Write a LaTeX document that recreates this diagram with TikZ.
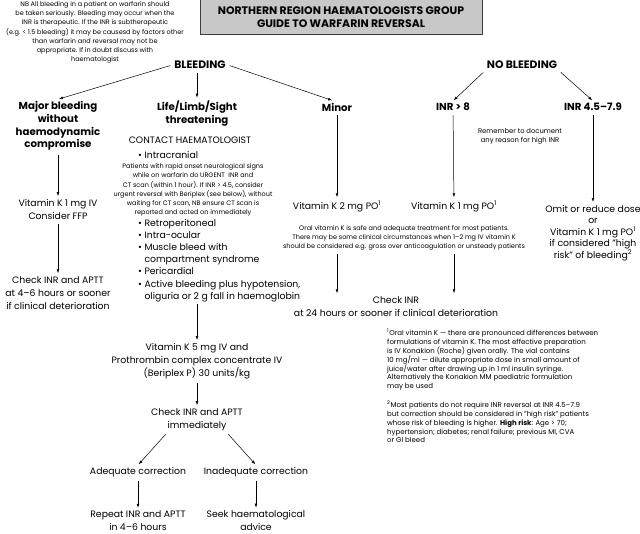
\documentclass[tikz,border=0pt]{standalone}
\usepackage{fontspec}
\setmainfont{Poppins}
\usepackage{tikz}
\usetikzlibrary{arrows.meta,positioning}
\definecolor{titlefill}{RGB}{200,200,200}
\definecolor{titleline}{RGB}{60,60,60}

\begin{document}
\begin{tikzpicture}[
		x=1pt,y=-1pt,
		>={Latex[length=4pt,width=2.8pt]},
		txt/.style={
			align=center,
			inner sep=2pt,
			font=\fontsize{9.3}{13}\selectfont,
		},
		head/.style={
			txt,
			font=\bfseries\fontsize{10.2}{12.7}\selectfont,
		},
		bighead/.style={
			txt,
			font=\bfseries\fontsize{10.8}{13}\selectfont,
		},
		list/.style={
			txt,
			align=left,
			anchor=west,
			inner sep=0pt,
			font=\fontsize{9.3}{12.2}\selectfont,
		},
		small/.style={
			align=center,
			inner sep=1pt,
			font=\fontsize{6.5}{9.2}\selectfont,
		},
		foot/.style={
			align=left,
			anchor=west,
			inner sep=0pt,
			font=\fontsize{7}{8.9}\selectfont,
		},
		titlebox/.style={
			draw=titleline,
			line width=1pt,
			fill=titlefill,
			align=center,
			minimum width=282pt,
			minimum height=35pt,
			font=\bfseries\fontsize{10.9}{13}\selectfont,
		},
		arr/.style={
			->,
			line width=0.5pt,
			shorten <=2pt,
			shorten >=1pt,
		}
	]
	\useasboundingbox (0,0) rectangle (640,534);

	% heading
	\node[small] (note) at (95,32.5) {NB All bleeding in a patient on warfarin should\\be taken seriously. Bleeding may occur when the\\INR is therapeutic. If the INR is subtherapeutic\\(e.g. < 1.5 bleeding) it may be causesd by factors other\\than warfarin and reversal may not be\\appropriate. If in doubt discuss with\\haematologist};
	\node[titlebox] (title) at (341,17.5) {NORTHERN REGION HAEMATOLOGISTS GROUP\\GUIDE TO WARFARIN REVERSAL};

	\node[bighead] (bl) at (200,65) {BLEEDING};
	\node[bighead] (nb) at (522,65) {NO BLEEDING};

	\node[head] (bl1) at (58,126) {Major bleeding\\without\\haemodynamic\\compromise};
	\node[head] (bl2) at (197,113.5) {Life/Limb/Sight\\threatening};
	\node[head] (bl3) at (337,107) {Minor};
	\node[head] (nb1) at (453,107) {INR > 8};
	\node[head] (nb2) at (593,107) {INR 4.5–7.9};
	\node[small,font=\fontsize{6.8}{8.5}\selectfont] (nb1n) at (520,136.5) {Remember to document\\any reason for high INR};

	% major bleeding
	\node[txt] (bl1a) at (58,209.5) {Vitamin K 1 mg IV\\Consider FFP};
	\node[txt] (bl1b) at (58,293) {Check INR and APTT\\at 4–6 hours or sooner\\if clinical deterioration};

	% life/limb/sight
	\node[txt] (bl2a) at (190,140) {CONTACT HAEMATOLOGIST};
	\node[list] (bl2b) at (138,155) {\textbullet\ Intracranial};
	\node[small] (bl2c) at (193,190) {Patients with rapid onset neurological signs\\while on warfarin do URGENT\ \ INR and\\CT scan (within 1 hour). If INR > 4.5, consider\\urgent reversal with Beriplex (see below), without\\waiting for CT scan, NB ensure CT scan is\\reported and acted on immediately};
	\node[list] (bl2d) at (138,260.5) {\textbullet\ Retroperitoneal\\\textbullet\ Intra-ocular\\\textbullet\ Muscle bleed with\\\hphantom{\textbullet\ }compartment syndrome\\\textbullet\ Pericardial\\\textbullet\ Active bleeding plus hypotension,\\\hphantom{\textbullet\ }oliguria or 2 g fall in haemoglobin};
	\node[txt] (bl2e) at (197,361) {Vitamin K 5 mg IV and\\Prothrombin complex concentrate IV\\(Beriplex P) 30 units/kg};
	\node[txt] (bl2f) at (197,419.5) {Check INR and APTT\\immediately};
	\node[txt] (bl2g1) at (138,472) {Adequate correction};
	\node[txt] (bl2g2) at (256,472) {Inadequate correction};
	\node[txt] (bl2h1) at (138,521) {Repeat INR and APTT\\in 4–6 hours};
	\node[txt] (bl2h2) at (256,521) {Seek haematological\\advice};

	% minor and no bleeding
	\node[txt] (bl3a) at (337,206) {Vitamin K 2 mg PO\textsuperscript{1}};
	\node[txt] (nb1a) at (454,206) {Vitamin K 1 mg PO\textsuperscript{1}};
	\node[txt,font=\fontsize{9.3}{11.5}\selectfont] (nb2a) at (593,233) {Omit or reduce dose\\or\\Vitamin K 1 mg PO\textsuperscript{1}\\if considered "high\\risk" of bleeding\textsuperscript{2}};
	\node[small] (oral) at (404,238) {Oral vitamin K is safe and adequate treatment for most patients.\\There may be some clinical circumstances when 1–2 mg IV vitamin K\\should be considered e.g. gross over anticoagulation or unsteady patients};
	\node[txt] (chk) at (396,306.5) {Check INR\\at 24 hours or sooner if clinical deterioration};

	% footnotes
	\node[foot] (fn1) at (387,359.7) {\textsuperscript{1}Oral vitamin K — there are pronounced differences between\\formulations of vitamin K. The most effective preparation\\is IV Konakion (Roche) given orally. The vial contains\\10 mg/ml — dilute appropriate dose in small amount of\\juice/water after drawing up in 1 ml insulin syringe.\\Alternatively the Konakion MM paediatric formulation\\may be used};
	\node[foot] (fn2) at (387,421.8) {\textsuperscript{2}Most patients do not require INR reversal at INR 4.5–7.9\\but correction should be considered in "high risk" patients\\whose risk of bleeding is higher. \textbf{High risk}: Age > 70;\\hypertension; diabetes; renal failure; previous MI, CVA\\or GI bleed};

	% connectors
	\draw[arr] (bl.west) -- (bl1.north);
	\draw[arr] (bl2 |- bl.south) -- (bl2.north);
	\draw[arr] (bl.east) -- ([xshift=-4pt]bl3.north);
	\draw[arr] (nb.south west) -- (nb1.north);
	\draw[arr] (nb.south east) -- (nb2.north);

	\draw[arr] (bl1) -- (bl1a);
	\draw[arr] (bl1a) -- (bl1b);

	\draw[arr] (bl2e |- bl2d.south) -- (bl2e.north);
	\draw[arr] (bl2e) -- (bl2f);
	\draw[arr] ([xshift=-30pt]bl2f.south) -- (bl2g1.north);
	\draw[arr] ([xshift=30pt]bl2f.south) -- (bl2g2.north);
	\draw[arr] (bl2g1) -- (bl2h1);
	\draw[arr] (bl2g2) -- (bl2h2);

	\draw[arr] (bl3) -- (bl3a);
	\draw[arr] (nb1) -- (nb1a);
	\draw[arr] (nb2) -- (nb2a);
	\draw[arr] (bl3a |- oral.south) -- (bl3a |- chk.north);
	\draw[arr] (nb1a |- oral.south) -- (nb1a |- chk.north);
\end{tikzpicture}
\end{document}
